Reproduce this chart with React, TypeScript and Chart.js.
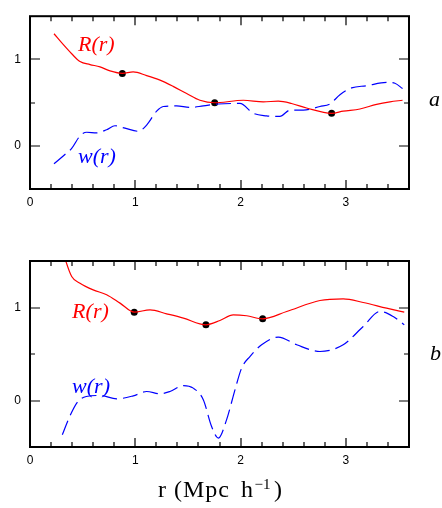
import React, { useEffect, useRef } from "react";
import { Chart, registerables } from "chart.js";

Chart.register(...registerables);

// ---------- Panel a ----------
const aRx = [0.228, 0.317, 0.396, 0.475, 0.57, 0.665, 0.76, 0.877, 0.98, 1.108, 1.235, 1.36, 1.488, 1.614, 1.754, 1.804, 2.026, 2.216, 2.358, 2.484, 2.627, 2.865, 2.975, 3.134, 3.292, 3.419, 3.539];
const aRy = [1.297, 1.17, 1.065, 0.975, 0.94, 0.914, 0.867, 0.838, 0.856, 0.813, 0.76, 0.688, 0.605, 0.527, 0.498, 0.501, 0.527, 0.509, 0.516, 0.49, 0.437, 0.376, 0.401, 0.426, 0.48, 0.509, 0.527];
const aWx = [0.228, 0.332, 0.396, 0.475, 0.538, 0.633, 0.728, 0.807, 0.902, 1.029, 1.108, 1.203, 1.266, 1.393, 1.519, 1.646, 1.789, 1.994, 2.121, 2.247, 2.374, 2.469, 2.596, 2.754, 2.849, 2.944, 3.055, 3.197, 3.387, 3.466, 3.539];
const aWy = [-0.208, -0.1, -0.03, 0.114, 0.157, 0.15, 0.186, 0.232, 0.204, 0.168, 0.24, 0.401, 0.455, 0.462, 0.444, 0.462, 0.484, 0.49, 0.376, 0.347, 0.34, 0.412, 0.412, 0.455, 0.484, 0.591, 0.67, 0.695, 0.734, 0.724, 0.662];
const aDotX = [0.877, 1.754, 2.865];
const aDotY = [0.838, 0.498, 0.376];

// ---------- Panel b ----------
const bRx = [0.31, 0.396, 0.475, 0.6, 0.728, 0.855, 0.99, 1.14, 1.298, 1.457, 1.671, 1.804, 1.931, 2.058, 2.21, 2.438, 2.754, 2.975, 3.165, 3.387, 3.555];
const bRy = [1.6, 1.333, 1.262, 1.19, 1.137, 1.047, 0.95, 0.975, 0.932, 0.886, 0.814, 0.86, 0.921, 0.911, 0.878, 0.957, 1.075, 1.093, 1.054, 0.993, 0.95];
const bWx = [0.307, 0.377, 0.456, 0.535, 0.665, 0.823, 0.981, 1.108, 1.235, 1.33, 1.457, 1.551, 1.646, 1.725, 1.789, 1.867, 1.947, 2.01, 2.089, 2.2, 2.358, 2.533, 2.754, 2.975, 3.165, 3.324, 3.45, 3.555];
const bWy = [-0.369, -0.172, -0.01, 0.043, 0.054, 0.018, 0.05, 0.097, 0.072, 0.097, 0.161, 0.133, 0.008, -0.28, -0.404, -0.208, 0.115, 0.348, 0.473, 0.599, 0.682, 0.599, 0.527, 0.599, 0.796, 0.957, 0.903, 0.814];
const bDotX = [0.99, 1.671, 2.21];
const bDotY = [0.95, 0.814, 0.878];

// ---------- Axes ----------
const xMin = 0;
const xMax = 3.6;
const yMin = -0.5;
const yMax = 1.5;
const xTickLabels = [0, 1, 2, 3];
const yTickLabels = [0, 1];
const xMinorStep = 0.2;
const yMinorTicks = [0, 0.5, 1];

type Label = { text: string; x: number; y: number; color: string };

const zip = (xs: number[], ys: number[]) => xs.map((x, i) => ({ x, y: ys[i] }));

const framePlugin = {
  id: "frameTicks",
  afterDraw(chart: any) {
    const { ctx, chartArea: ca, scales } = chart;
    const xs = scales.x;
    const ys = scales.y;
    ctx.save();
    ctx.strokeStyle = "#000";
    ctx.lineWidth = 1.2;
    const nX = Math.round((xMax - xMin) / xMinorStep);
    for (let i = 1; i < nX; i++) {
      const v = xMin + i * xMinorStep;
      const major = Math.abs(v - Math.round(v)) < 1e-6;
      const len = major ? 9 : 5;
      const px = Math.round(xs.getPixelForValue(v));
      ctx.beginPath();
      ctx.moveTo(px, ca.bottom);
      ctx.lineTo(px, ca.bottom - len);
      ctx.moveTo(px, ca.top);
      ctx.lineTo(px, ca.top + len);
      ctx.stroke();
    }
    for (const v of yMinorTicks) {
      const major = Math.abs(v - Math.round(v)) < 1e-6;
      const len = major ? 10 : 5;
      const py = Math.round(ys.getPixelForValue(v));
      ctx.beginPath();
      ctx.moveTo(ca.left, py);
      ctx.lineTo(ca.left + len, py);
      ctx.moveTo(ca.right, py);
      ctx.lineTo(ca.right - len, py);
      ctx.stroke();
    }
    ctx.lineWidth = 2;
    ctx.strokeRect(ca.left, ca.top, ca.right - ca.left, ca.bottom - ca.top);

    const labels: Label[] = chart.options.plugins.frameTicks.labels || [];
    for (const l of labels) {
      ctx.font = 'italic 22px "Liberation Serif"';
      ctx.fillStyle = l.color;
      ctx.textBaseline = "alphabetic";
      ctx.textAlign = "left";
      ctx.fillText(l.text, xs.getPixelForValue(l.x), ys.getPixelForValue(l.y));
    }

    if (chart.options.plugins.frameTicks.title) {
      const cx = (ca.left + ca.right) / 2;
      const base = ca.bottom + 50;
      ctx.fillStyle = "#000";
      ctx.textAlign = "left";
      ctx.textBaseline = "alphabetic";
      ctx.font = '24px "Liberation Serif"';
      (ctx as any).letterSpacing = "1px";
      ctx.fillText("r", cx - 61.5, base);
      ctx.fillText("(Mpc", cx - 45.5, base);
      ctx.fillText("h", cx + 21.5, base);
      ctx.fillText(")", cx + 54.5, base);
      ctx.font = '15px "Liberation Serif"';
      (ctx as any).letterSpacing = "0px";
      ctx.fillText("\u2212", cx + 35, base - 8);
      ctx.fillText("1", cx + 43.5, base - 8);
    }
    ctx.restore();
  },
};

function makeConfig(
  rx: number[], ry: number[], wx: number[], wy: number[], dx: number[], dy: number[],
  padTop: number, xAxisH: number, labels: Label[], title: boolean
): any {
  return {
    type: "scatter",
    data: {
      datasets: [
        {
          data: zip(rx, ry),
          showLine: true,
          borderColor: "#ff0000",
          borderWidth: 1.2,
          pointRadius: 0,
          cubicInterpolationMode: "monotone",
        },
        {
          data: zip(wx, wy),
          showLine: true,
          borderColor: "#0000ff",
          borderWidth: 1.2,
          borderDash: [15, 6],
          pointRadius: 0,
          cubicInterpolationMode: "monotone",
        },
        {
          data: zip(dx, dy),
          showLine: false,
          pointRadius: 3.5,
          pointBackgroundColor: "#000",
          pointBorderColor: "#000",
          pointBorderWidth: 0,
        },
      ],
    },
    options: {
      responsive: false,
      maintainAspectRatio: false,
      animation: false,
      layout: { padding: { top: padTop, right: 33, left: 0, bottom: 0 } },
      plugins: {
        legend: { display: false },
        tooltip: { enabled: false },
        frameTicks: { labels, title },
      },
      scales: {
        x: {
          type: "linear",
          min: xMin,
          max: xMax,
          grid: { display: false, drawTicks: false, tickLength: 0 },
          border: { display: false },
          afterBuildTicks: (s: any) => {
            s.ticks = xTickLabels.map((v) => ({ value: v }));
          },
          afterFit: (s: any) => {
            s.height = xAxisH;
          },
          ticks: {
            color: "#000",
            padding: 6,
            maxRotation: 0,
            font: { family: "Liberation Sans", size: 12 },
            callback: (v: any) => String(v),
          },
        },
        y: {
          type: "linear",
          min: yMin,
          max: yMax,
          grid: { display: false, drawTicks: false, tickLength: 0 },
          border: { display: false },
          afterBuildTicks: (s: any) => {
            s.ticks = yTickLabels.map((v) => ({ value: v }));
          },
          afterFit: (s: any) => {
            s.width = 30;
          },
          ticks: {
            color: "#000",
            padding: 9,
            font: { family: "Liberation Sans", size: 12 },
            callback: (v: any) => String(v),
          },
        },
      },
    },
    plugins: [framePlugin],
  };
}

export default function App() {
  const topRef = useRef<HTMLCanvasElement>(null);
  const botRef = useRef<HTMLCanvasElement>(null);

  useEffect(() => {
    const labelsA: Label[] = [
      { text: "R(r)", x: 0.456, y: 1.1, color: "#ff0000" },
      { text: "w(r)", x: 0.456, y: -0.2, color: "#0000ff" },
      { text: "a", x: 3.79, y: 0.46, color: "#000" },
    ];
    const labelsB: Label[] = [
      { text: "R(r)", x: 0.4, y: 0.89, color: "#ff0000" },
      { text: "w(r)", x: 0.4, y: 0.08, color: "#0000ff" },
      { text: "b", x: 3.8, y: 0.435, color: "#000" },
    ];
    const c1 = new Chart(topRef.current!, makeConfig(aRx, aRy, aWx, aWy, aDotX, aDotY, 3, 26, labelsA, false));
    const c2 = new Chart(botRef.current!, makeConfig(bRx, bRy, bWx, bWy, bDotX, bDotY, 31, 61, labelsB, true));
    return () => {
      c1.destroy();
      c2.destroy();
    };
  }, []);

  return (
    <div style={{ position: "absolute", left: 0, top: 0, width: 442, height: 508, background: "#fff" }}>
      <canvas ref={topRef} width={442} height={215} style={{ position: "absolute", left: 0, top: 0, width: 442, height: 215 }} />
      <canvas ref={botRef} width={442} height={278} style={{ position: "absolute", left: 0, top: 230, width: 442, height: 278 }} />
    </div>
  );
}
